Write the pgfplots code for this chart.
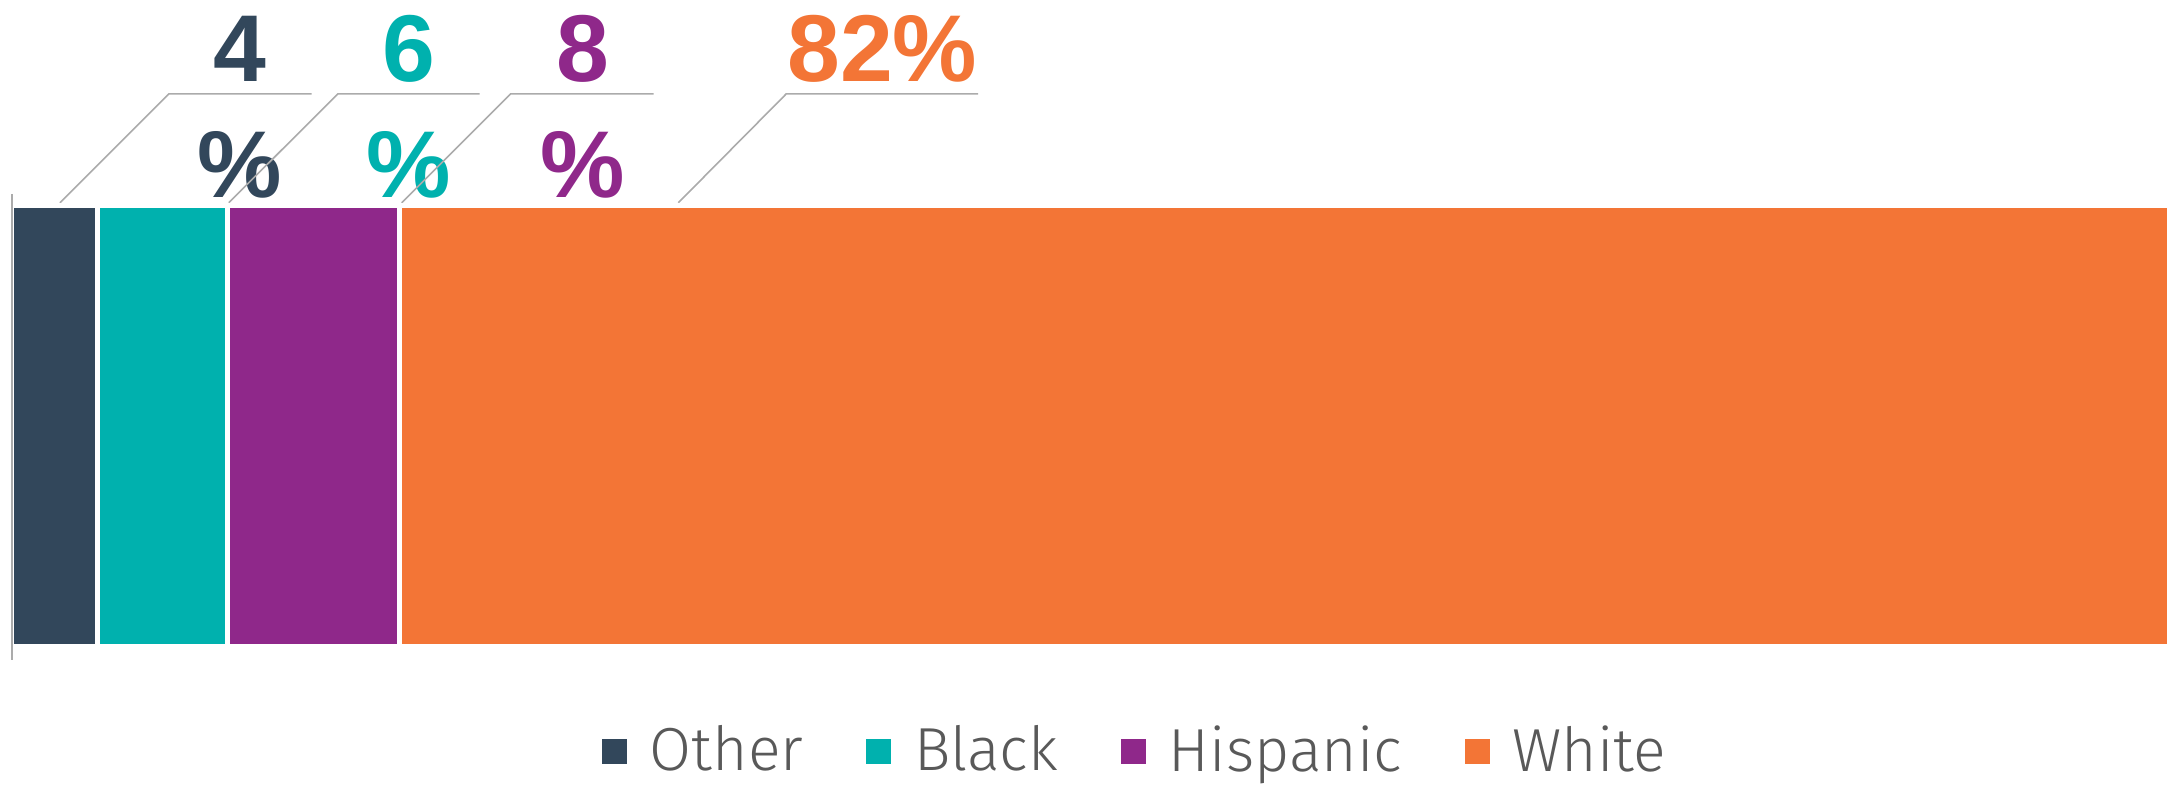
\documentclass[border=0pt]{standalone}
\usepackage{pgfplots}
\pgfplotsset{compat=1.18}
\usepackage{fontspec}
\setmainfont{Liberation Sans}
\newfontfamily\legfont{Fira Sans}[UprightFont={* Light}]
\definecolor{cOther}{HTML}{32475B}
\definecolor{cBlack}{HTML}{00B1AE}
\definecolor{cHisp}{HTML}{8F288A}
\definecolor{cWhite}{HTML}{F37536}
\definecolor{textgray}{HTML}{595959}
\definecolor{linegray}{HTML}{ABABAB}
\tikzset{lab/.style={anchor=base, inner sep=0pt, font=\bfseries\fontsize{23.75}{28}\selectfont}}
\begin{document}
\begin{tikzpicture}
\begin{axis}[
  scale only axis, width=543pt, height=196pt,
  xmin=-0.532, xmax=100.023, ymin=0, ymax=784,
  hide axis, clip=false,
  xbar stacked, bar width=110.5pt,
  legend columns=4,
  legend style={draw=none, fill=none, at={(rel axis cs:0.5215,0.041)}, anchor=center,
    font=\legfont\fontsize{15.2}{18}\selectfont, text=textgray,
    nodes={inner sep=0pt},
    /tikz/every odd column/.append style={column sep=4.5pt},
    /tikz/every even column/.append style={column sep=14.5pt}},
  legend image code/.code={\fill[#1] (0pt,-3.75pt) rectangle (7.5pt,3.75pt);},
]
\addplot[fill=cOther, draw=white, line width=1.25pt] coordinates {(4,357.5)};
\addlegendentry{Other}
\addplot[fill=cBlack, draw=white, line width=1.25pt] coordinates {(6,357.5)};
\addlegendentry{Black}
\addplot[fill=cHisp, draw=white, line width=1.25pt] coordinates {(8,357.5)};
\addlegendentry{Hispanic}
\addplot[fill=cWhite, draw=white, line width=1.25pt] coordinates {(82,357.5)};
\addlegendentry{White}
% axis line end points
\coordinate (ax1) at (axis cs:0.02,590);
\coordinate (ax2) at (axis cs:0.02,123);
% leader lines
\draw[linegray, line width=0.4pt] (axis cs:2.245,581) -- (axis cs:7.29,690) -- (axis cs:13.91,690);
\draw[linegray, line width=0.4pt] (axis cs:10.07,581) -- (axis cs:15.12,690) -- (axis cs:21.69,690);
\draw[linegray, line width=0.4pt] (axis cs:18.08,581) -- (axis cs:23.13,690) -- (axis cs:29.75,690);
\draw[linegray, line width=0.4pt] (axis cs:30.90,581) -- (axis cs:35.90,690) -- (axis cs:44.79,690);
% labels
\node[lab, text=cOther] at (axis cs:10.58,702) {4};
\node[lab, text=cOther] at (axis cs:10.58,586) {\%};
\node[lab, text=cBlack] at (axis cs:18.40,702) {6};
\node[lab, text=cBlack] at (axis cs:18.40,586) {\%};
\node[lab, text=cHisp] at (axis cs:26.46,702) {8};
\node[lab, text=cHisp] at (axis cs:26.46,586) {\%};
\node[lab, text=cWhite] at (axis cs:40.35,702) {82\%};
\end{axis}
\draw[linegray, line width=0.5pt] (ax1) -- (ax2);
\path (current axis.south west) rectangle (current axis.north east);
\end{tikzpicture}
\end{document}
